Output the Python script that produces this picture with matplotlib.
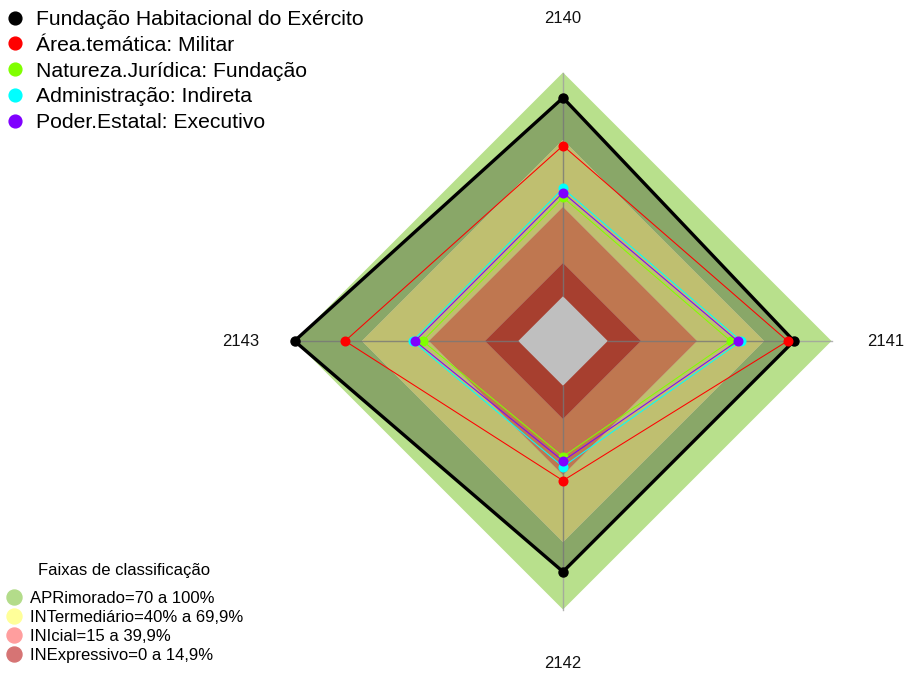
import numpy as np
import matplotlib
matplotlib.use('Agg')
import matplotlib.pyplot as plt
from matplotlib.lines import Line2D
from matplotlib.path import Path
from matplotlib.patches import PathPatch

plt.rcParams['font.family'] = ['Liberation Sans', 'DejaVu Sans']

# ---- data ----
axis_labels = ['2140', '2141', '2142', '2143']
series_names = ['Fundação Habitacional do Exército', 'Área.temática: Militar',
                'Natureza.Jurídica: Fundação', 'Administração: Indireta',
                'Poder.Estatal: Executivo']
series_colors = ['#000000', '#ff0000', '#80ff00', '#00ffff', '#8000ff']
fhe = [88.7, 83.2, 83.1, 100.0]
militar = [67.3, 80.4, 42.4, 77.4]
fundacao = [44.2, 54.9, 31.7, 42.7]
indireta = [48.2, 59.6, 36.2, 47.2]
executivo = [46.3, 58.0, 33.6, 46.1]
series_values = [fhe, militar, fundacao, indireta, executivo]

band_title = 'Faixas de classificação'
band_names = ['APRimorado=70 a 100%', 'INTermediário=40% a 69,9%',
              'INIcial=15 a 39,9%', 'INExpressivo=0 a 14,9%']
band_low = [69.9, 39.9, 14.9, 0.0]
band_high = [100.0, 69.9, 39.9, 14.9]
band_colors = ['#b8e08c', '#ffff96', '#ffa06b', '#e05540']
band_legend_colors = ['#b3dc8a', '#ffff99', '#ff9e9e', '#d67474']

r_center = -20.0   # value placed at the centre of the chart
r_max = 100.0

fig = plt.figure(figsize=(9.05, 6.75), dpi=100)
W, H = 905, 675
cx, cy, R = 563, 341, 268.5
ax = fig.add_axes([(cx - R) / W, (H - cy - R) / H, 2 * R / W, 2 * R / H], projection='polar')
ax.set_theta_zero_location('N')
ax.set_theta_direction(-1)
ax.set_ylim(r_center, r_max)
ax.grid(False)
ax.set_xticks([])
ax.set_yticks([])
ax.spines['polar'].set_visible(False)
ax.patch.set_visible(False)

n = len(axis_labels)
theta = np.arange(n) * 2 * np.pi / n
theta_c = np.r_[theta, theta[:1]]

# bands (annuli)
for lo, hi, col in zip(band_low, band_high, band_colors):
    outer = np.column_stack([theta_c, np.full(n + 1, hi)])
    inner = np.column_stack([theta_c[::-1], np.full(n + 1, lo)])
    verts = np.vstack([outer, inner])
    codes = ([Path.MOVETO] + [Path.LINETO] * (n - 1) + [Path.CLOSEPOLY]) * 2
    patch = PathPatch(Path(verts, codes), facecolor=col, edgecolor='none',
                      transform=ax.transData, zorder=1, clip_on=False)
    ax.add_patch(patch)

# axis lines
for t in theta:
    ax.plot([t, t], [0, r_max], color='#a0a0a0', lw=1.0, alpha=0.8, zorder=2, clip_on=False)

# shaded area of the main series
ax.fill(theta_c, np.r_[fhe, fhe[:1]], color='black', alpha=0.25, lw=0, zorder=3, clip_on=False)

# series
for i, (vals, col) in enumerate(zip(series_values, series_colors)):
    lw = 2.4 if i == 0 else 0.75
    ms = 6.5 if i == 0 else 6.2
    ax.plot(theta_c, np.r_[vals, vals[:1]], color=col, lw=lw, zorder=4 + i, clip_on=False)
    ax.plot(theta, vals, 'o', color=col, ms=ms, mec=col, zorder=4 + i, clip_on=False)

# axis labels
for t, lab in zip(theta, axis_labels):
    ax.text(t, r_center + 1.2 * (r_max - r_center), lab, ha='center', va='center',
            fontsize=12, color='#111111')

# legend of series
handles = [Line2D([], [], marker='o', ls='none', color=c, ms=9.2) for c in series_colors]
leg1 = fig.legend(handles, series_names, loc='upper left', bbox_to_anchor=(7 / W, 1 - 10 / H),
                  frameon=False, fontsize=15.2, handlelength=0.8, handletextpad=0.58,
                  labelspacing=0.32, borderpad=0, borderaxespad=0)

# legend of bands
fig.text(124 / W, 1 - 571 / H, band_title, ha='center', va='center', fontsize=12)
bh = [Line2D([], [], marker='o', ls='none', color=c, ms=10.8) for c in band_legend_colors]
leg2 = fig.legend(bh, band_names, loc='upper left', bbox_to_anchor=(5 / W, 1 - 591 / H),
                  frameon=False, fontsize=12, handlelength=1.1, handletextpad=0.4,
                  labelspacing=0.24, borderpad=0, borderaxespad=0)

fig.savefig('out.png', dpi=100)
